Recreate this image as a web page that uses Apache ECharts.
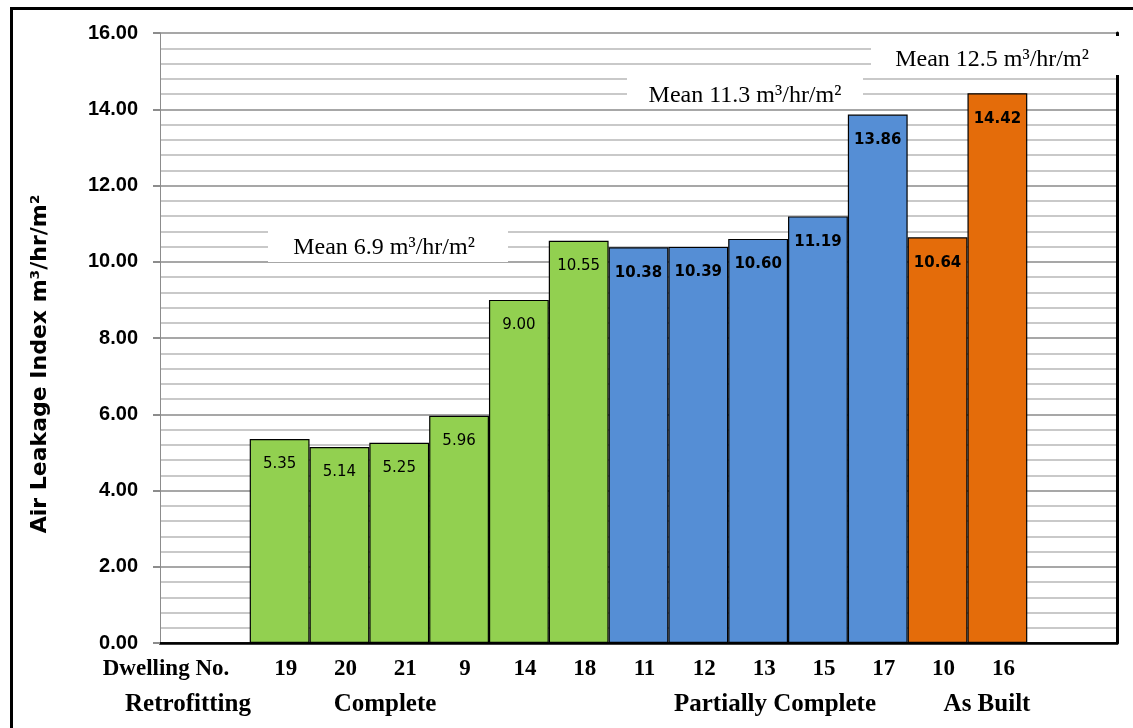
<!DOCTYPE html>
<html>
<head>
<meta charset="utf-8">
<script src="https://cdn.jsdelivr.net/npm/echarts@6/dist/echarts.min.js"></script>
<style>
  html, body { margin: 0; padding: 0; background: #fff; }
  #chart { width: 1133px; height: 728px; }
</style>
</head>
<body>
<div id="chart"></div>
<script>
// Dwelling numbers in plotting order and their measured air leakage index (m³/hr/m² @50Pa)
const dwellings = ['19', '20', '21', '9', '14', '18', '11', '12', '13', '15', '17', '10', '16'];
const leakage = [5.35, 5.14, 5.25, 5.96, 9.00, 10.55, 10.38, 10.39, 10.60, 11.19, 13.86, 10.64, 14.42];
const retrofitStage = ['Complete', 'Complete', 'Complete', 'Complete', 'Complete', 'Complete',
  'Partially Complete', 'Partially Complete', 'Partially Complete', 'Partially Complete', 'Partially Complete',
  'As Built', 'As Built'];

// Stage summaries
const stages = ['Complete', 'Partially Complete', 'As Built'];
const stageMeans = [6.9, 11.3, 12.5];
const stageColors = { 'Complete': '#92D050', 'Partially Complete': '#558ED5', 'As Built': '#E46C0A' };

// Axis settings
const yTicks = [0, 2, 4, 6, 8, 10, 12, 14, 16];
const yTitle = 'Air Leakage Index m³/hr/m²';
const rowTitle = 'Dwelling No.';
const stageRowTitle = 'Retrofitting';

// Category slots: a title slot, a spacer, the dwellings, then two trailing spacers
const categories = [rowTitle, ''].concat(dwellings, ['', '']);
const seriesData = [null, null].concat(leakage.map((v, i) => {
  const stage = retrofitStage[i];
  return {
    value: v,
    itemStyle: { color: stageColors[stage] },
    label: { fontWeight: stage === 'Complete' ? 'normal' : 'bold' }
  };
}), [null, null]);

const chart = echarts.init(document.getElementById('chart'));
const serif = '"Liberation Serif", "DejaVu Serif", serif';
const sans = '"DejaVu Sans", Verdana, sans-serif';

function meanText(v) { return 'Mean ' + v + ' m³/hr/m²'; }
function centered(text, x, y, font) {
  return { type: 'text', z: 101, x: x, y: y,
    style: { text: text, font: font, fill: '#000', align: 'center', verticalAlign: 'middle' } };
}

chart.setOption({
  animation: false,
  backgroundColor: '#ffffff',
  grid: { left: 160, right: 16, top: 33, bottom: 85, containLabel: false },
  xAxis: [{
    type: 'category',
    data: categories,
    boundaryGap: false,
    axisLine: { lineStyle: { color: '#000', width: 2.5 } },
    axisTick: { show: false },
    axisLabel: {
      interval: 0, margin: 15, color: '#000',
      fontFamily: serif, fontWeight: 'bold', fontSize: 23,
      padding: [0, 0, 0, 12]
    },
    splitLine: { show: false }
  }, {
    type: 'category',
    position: 'top',
    data: categories,
    boundaryGap: false,
    axisLine: { lineStyle: { color: '#000', width: 1.5 } },
    axisTick: { show: false },
    axisLabel: { show: false }
  }],
  yAxis: [{
    type: 'value',
    min: yTicks[0],
    max: yTicks[yTicks.length - 1],
    interval: yTicks[1] - yTicks[0],
    axisLine: { show: true, lineStyle: { color: '#8c8c8c', width: 1 } },
    axisTick: { show: true, length: 7, lineStyle: { color: '#8c8c8c', width: 2 } },
    axisLabel: {
      margin: 22, color: '#000', fontFamily: '"Liberation Sans", Arial, sans-serif', fontWeight: 'bold', fontSize: 20,
      formatter: v => v.toFixed(2)
    },
    splitLine: { show: true, lineStyle: { color: '#8a8a8a', width: 1.5 } },
    minorTick: { show: false, splitNumber: 5 },
    minorSplitLine: { show: true, lineStyle: { color: '#b8b8b8', width: 1.5 } }
  }, {
    type: 'value',
    position: 'right',
    min: yTicks[0],
    max: yTicks[yTicks.length - 1],
    interval: yTicks[1] - yTicks[0],
    axisLine: { show: true, lineStyle: { color: '#000', width: 3 } },
    axisTick: { show: false },
    axisLabel: { show: false },
    splitLine: { show: false }
  }],
  series: [{
    type: 'bar',
    data: seriesData,
    barWidth: '100%',
    barGap: '0%',
    itemStyle: { borderColor: '#000', borderWidth: 1.2 },
    label: {
      show: true,
      position: 'insideTop',
      distance: 18,
      color: '#000',
      fontFamily: sans,
      fontSize: 15,
      formatter: p => p.value.toFixed(2)
    }
  }],
  graphic: [
    // outer frame
    { type: 'rect', silent: true, z: 200,
      shape: { x: 11.5, y: 8.5, width: 1140, height: 740 },
      style: { fill: 'none', stroke: '#000', lineWidth: 3 } },
    // vertical axis title
    { type: 'text', z: 101, x: 40, y: 364, rotation: Math.PI / 2,
      style: { text: yTitle, font: 'bold 22px "DejaVu Sans", sans-serif', fill: '#000', align: 'center', verticalAlign: 'middle' } },
    // stage mean annotations on white panels
    { type: 'rect', z: 100, shape: { x: 268, y: 230, width: 240, height: 32 }, style: { fill: '#fff' } },
    centered(meanText(stageMeans[0]), 384, 248, '24px ' + serif),
    { type: 'rect', z: 100, shape: { x: 627, y: 66, width: 236, height: 38 }, style: { fill: '#fff' } },
    centered(meanText(stageMeans[1]), 745, 96, '24px ' + serif),
    { type: 'rect', z: 100, shape: { x: 871, y: 36, width: 256, height: 39 }, style: { fill: '#fff' } },
    centered(meanText(stageMeans[2]), 992, 60, '24px ' + serif),
    // retrofitting stage row
    centered(stageRowTitle, 188, 705, 'bold 25px ' + serif),
    centered(stages[0], 385, 705, 'bold 25px ' + serif),
    centered(stages[1], 775, 705, 'bold 25px ' + serif),
    centered(stages[2], 987, 705, 'bold 25px ' + serif)
  ]
});
</script>
</body>
</html>
